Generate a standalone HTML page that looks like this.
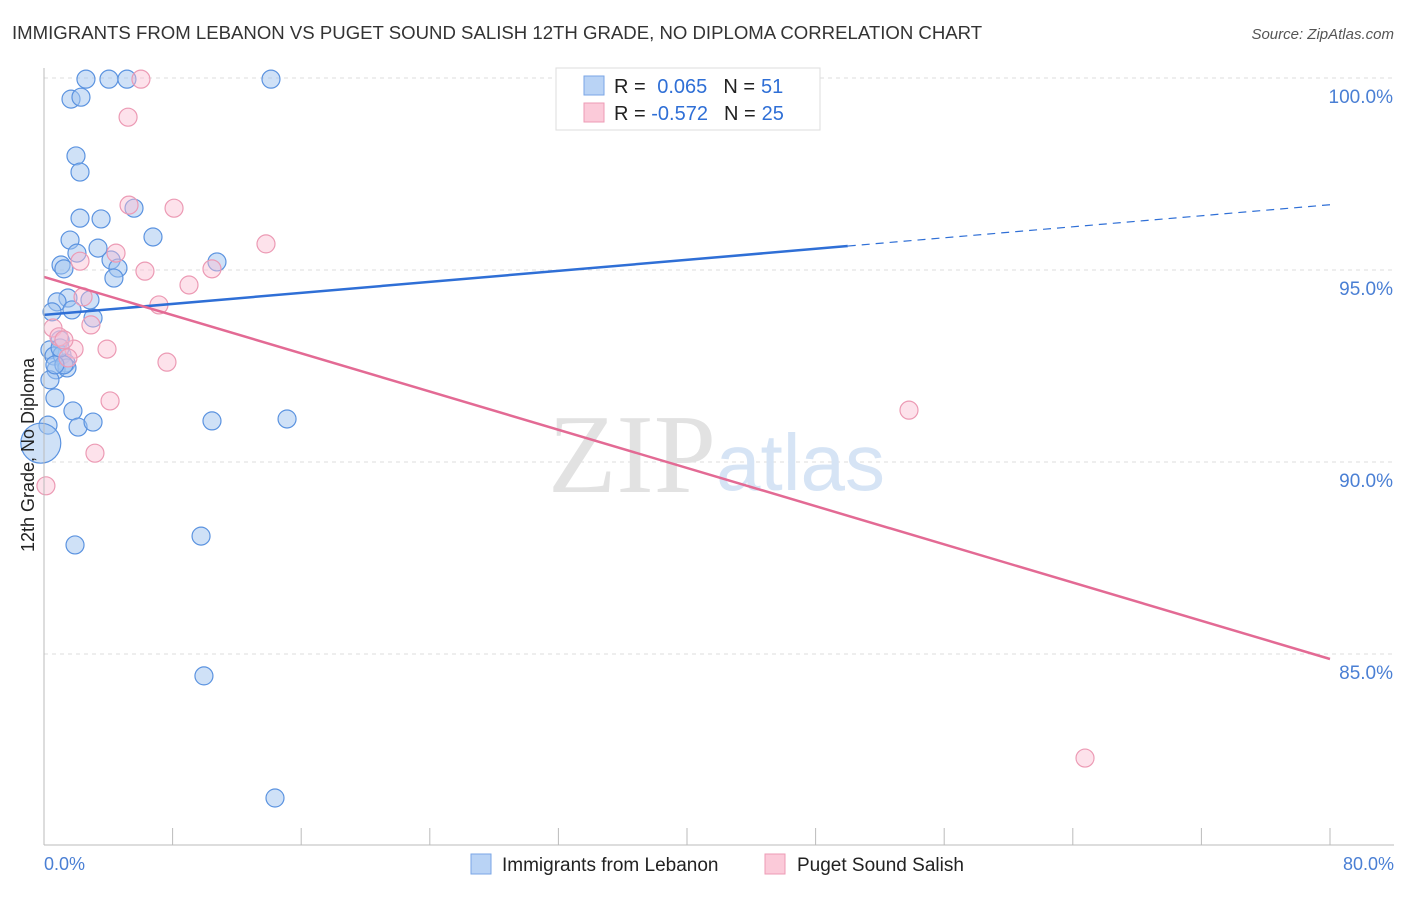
<!DOCTYPE html>
<html><head><meta charset="utf-8"><style>
body{margin:0;background:#fff;font-family:"Liberation Sans",sans-serif;}
</style></head><body>
<svg width="1406" height="892">
<text x="12" y="39" font-size="18.6" fill="#333">IMMIGRANTS FROM LEBANON VS PUGET SOUND SALISH 12TH GRADE, NO DIPLOMA CORRELATION CHART</text>
<text x="1394" y="39" font-size="15" fill="#555" font-style="italic" text-anchor="end">Source: ZipAtlas.com</text>
<g id="grid"></g>
<text x="716" y="492" font-size="112" fill="#e2e2e2" text-anchor="end" font-family="Liberation Serif,serif">ZIP</text>
<text x="716" y="490" font-size="80" fill="#d6e4f5">atlas</text>
<g id="pts"></g>
<g id="lines"></g>
<line x1="44" y1="68" x2="44" y2="845" stroke="#bbb"/>
<line x1="44" y1="845" x2="1394" y2="845" stroke="#bbb"/>
<text x="34" y="455" font-size="18" fill="#222" text-anchor="middle" transform="rotate(-90 34 455)">12th Grade, No Diploma</text>
<text x="44" y="870" font-size="18" fill="#4a7fd4">0.0%</text>
<text x="1394" y="870" font-size="18" fill="#4a7fd4" text-anchor="end">80.0%</text>
<g>
<rect x="556" y="68" width="264" height="62" fill="#fff" stroke="#ddd"/>
<rect x="584" y="76" width="20" height="19" fill="#b9d3f5" stroke="#7aa6e6"/>
<rect x="584" y="103" width="20" height="19" fill="#fbcad9" stroke="#ee9bb5"/>
<text x="614" y="93" font-size="20" fill="#222">R = <tspan fill="#2f6fd6" dx="6">0.065</tspan><tspan dx="16">N =</tspan><tspan fill="#2f6fd6" dx="6">51</tspan></text>
<text x="614" y="120" font-size="20" fill="#222">R = <tspan fill="#2f6fd6" dx="0">-0.572</tspan><tspan dx="16">N =</tspan><tspan fill="#2f6fd6" dx="6">25</tspan></text>
</g>
<g>
<rect x="471" y="854" width="20" height="20" fill="#b9d3f5" stroke="#7aa6e6"/>
<text x="502" y="871" font-size="19" fill="#222">Immigrants from Lebanon</text>
<rect x="765" y="854" width="20" height="20" fill="#fbcad9" stroke="#ee9bb5"/>
<text x="797" y="871" font-size="19" fill="#222">Puget Sound Salish</text>
</g>
</svg>
<script>
const blueX=[2.61,4.04,5.16,14.12,1.68,2.30,1.99,2.24,2.24,3.55,5.60,1.62,3.36,6.78,2.05,1.06,1.24,4.17,4.60,4.35,10.76,1.49,0.81,1.74,3.05,0.50,1.00,0.37,0.62,1.12,1.37,0.75,1.43,0.37,0.68,1.80,0.25,2.12,3.05,10.45,15.12,-0.2,1.93,9.77,9.95,14.37,2.86,1.24,0.68,1.00,42.36];
const blueY=[99.97,99.97,99.97,99.97,99.45,99.5,97.97,97.55,96.35,96.33,96.61,95.78,95.57,95.86,95.44,95.13,95.03,95.26,95.05,94.79,95.21,94.27,94.17,93.96,93.75,93.91,93.18,92.92,92.76,92.79,92.58,92.40,92.45,92.14,91.67,91.33,90.96,90.91,91.04,91.07,91.12,90.49,87.84,88.07,84.43,81.25,94.22,92.53,92.53,92.97,99.97];
const pinkX=[6.03,5.23,5.29,8.09,13.81,2.24,4.48,6.28,10.45,2.43,9.02,7.15,0.56,2.92,0.93,1.87,3.92,1.49,7.65,4.11,3.17,0.12,53.81,64.76,1.24];
const pinkY=[99.97,98.98,96.69,96.61,95.68,95.23,95.44,94.97,95.03,94.30,94.61,94.09,93.49,93.57,93.26,92.94,92.94,92.71,92.60,91.59,90.23,89.38,91.35,82.29,93.18];
const blueTrend=[93.83,96.7];
const pinkTrend=[94.82,84.87];
const yTicks=[100,95,90,85];
const xTicks=[0,8,16,24,32,40,48,56,64,72,80];
const X=v=>44+v*16.075, Y=v=>78+(100-v)*38.4;
const NS='http://www.w3.org/2000/svg';
function mk(t,a,p){const e=document.createElementNS(NS,t);for(const k in a)e.setAttribute(k,a[k]);document.getElementById(p).appendChild(e);return e;}
yTicks.forEach(v=>{
 const l=mk('line',{x1:44,x2:1394,y1:Y(v),y2:Y(v),stroke:'#ddd','stroke-dasharray':'4,4'},'grid');
 
 
 const t=mk('text',{x:1393,y:Y(v)+25,'font-size':19,fill:'#4a7fd4','text-anchor':'end'},'grid');
 t.textContent=v.toFixed(1)+'%';
 
 
});
xTicks.forEach(v=>{
 const l=mk('line',{x1:X(v),x2:X(v),y1:828,y2:845,stroke:'#bbb'},'grid');
 
 
});
blueX.forEach((x,i)=>{
 const c=mk('circle',{cx:X(x),cy:Y(blueY[i]),r:x<0?20:9,fill:'rgba(160,196,240,0.5)',stroke:'#5b93e0','stroke-width':1.2},'pts');
 
 
});
pinkX.forEach((x,i)=>{
 const c=mk('circle',{cx:X(x),cy:Y(pinkY[i]),r:9,fill:'rgba(250,190,210,0.45)',stroke:'#ec9ab4','stroke-width':1.2},'pts');
 
 
});
const bAt=x=>blueTrend[0]+(blueTrend[1]-blueTrend[0])*x/80;
let l1=mk('line',{x1:X(0),y1:Y(bAt(0)),x2:X(50),y2:Y(bAt(50)),stroke:'#2f6fd6','stroke-width':2.5},'lines');


let l2=mk('line',{x1:X(50),y1:Y(bAt(50)),x2:X(80),y2:Y(bAt(80)),stroke:'#2f6fd6','stroke-width':1.2,'stroke-dasharray':'8,6'},'lines');


let l3=mk('line',{x1:X(0),y1:Y(pinkTrend[0]),x2:X(80),y2:Y(pinkTrend[1]),stroke:'#e36a94','stroke-width':2.5},'lines');


</script>
</body></html>
